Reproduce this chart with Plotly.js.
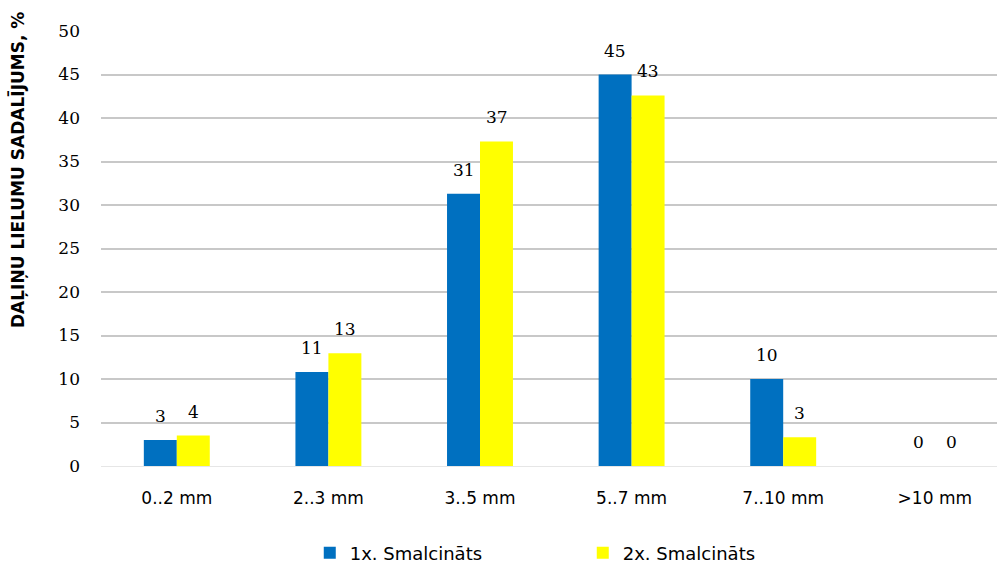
<!DOCTYPE html>
<html>
<head>
<meta charset="utf-8">
<script src="https://cdn.plot.ly/plotly-3.0.1.min.js"></script>
<style>
  html, body { margin: 0; padding: 0; background: #fff; }
  #chart { width: 997px; height: 565px; }
</style>
</head>
<body>
<div id="chart"></div>
<script>
// Particle size fractions
const categories = ['0..2 mm', '2..3 mm', '3..5 mm', '5..7 mm', '7..10 mm', '>10 mm'];
const seriesNames = ['1x. Smalcināts', '2x. Smalcināts'];
const once = [3.0, 10.8, 31.3, 45.0, 10.0, 0];
const twice = [3.5, 12.95, 37.3, 42.6, 3.3, 0];
const yTicks = [0, 5, 10, 15, 20, 25, 30, 35, 40, 45, 50];

const colors = ['#0070C0', '#FFFF00'];
const numFont = { family: 'DejaVu Serif, serif', size: 17, color: '#000' };

const traces = [once, twice].map((vals, i) => ({
  type: 'bar',
  name: seriesNames[i],
  x: categories,
  y: vals,
  marker: { color: colors[i], line: { width: 0 } },
  hoverinfo: 'skip'
}));

// Value labels above each bar, rounded from the bar values
const offsets = [-16.5, 16.5];
const annotations = [];
[once, twice].forEach((vals, i) => {
  vals.forEach((v, j) => {
    annotations.push({
      x: categories[j], y: v, xref: 'x', yref: 'y',
      text: String(Math.round(v)),
      showarrow: false, xshift: offsets[i], yshift: 24,
      xanchor: 'center', yanchor: 'middle',
      font: numFont
    });
  });
});

annotations.push({
  text: '<b>DAĻIŅU LIELUMU SADALĪJUMS, %</b>',
  xref: 'paper', yref: 'paper',
  x: -101 / 896 + 18 / 896, xanchor: 'center',
  y: 1 + 21 / 435, yanchor: 'top',
  textangle: -90, showarrow: false,
  font: { family: 'DejaVu Sans, sans-serif', size: 17, color: '#000' }
});

const layout = {
  width: 997, height: 565,
  margin: { l: 101, r: 0, t: 31, b: 99, autoexpand: false },
  paper_bgcolor: '#fff', plot_bgcolor: '#fff',
  barmode: 'group', bargap: 0.565, bargroupgap: 0,
  showlegend: true,
  legend: {
    orientation: 'h', x: 0.233, xanchor: 'left', y: -0.2, yanchor: 'middle',
    entrywidth: 228, entrywidthmode: 'pixels',
    font: { family: 'DejaVu Sans, sans-serif', size: 18, color: '#000' },
    itemclick: false
  },
  xaxis: {
    type: 'category',
    range: [-0.5, -0.5 + 896 / 151.6],
    showgrid: false, zeroline: false, showline: false, ticks: '',
    ticklabelstandoff: 20,
    tickfont: { family: 'DejaVu Sans, sans-serif', size: 17, color: '#000' }
  },
  yaxis: {
    range: [0, 50],
    tickvals: yTicks,
    ticktext: yTicks.map(String),
    showgrid: true, gridcolor: '#c8c8c8', gridwidth: 2,
    zeroline: true, zerolinecolor: '#e6e6e6', zerolinewidth: 1,
    showline: false, ticks: '',
    ticklabelstandoff: 20,
    tickfont: numFont
  },
  annotations: annotations
};

Plotly.newPlot('chart', traces, layout, { displayModeBar: false, staticPlot: true });
</script>
</body>
</html>
